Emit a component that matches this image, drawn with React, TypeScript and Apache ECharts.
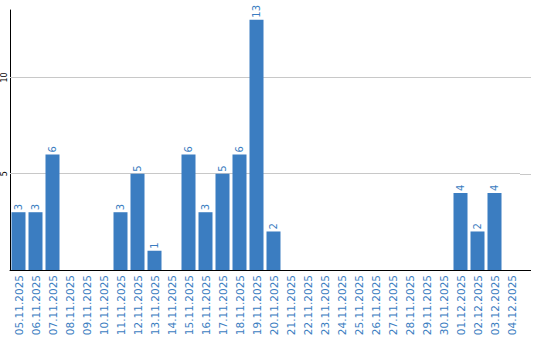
import React, { useEffect, useRef } from "react";
import * as echarts from "echarts";

const categories = [
  "05.11.2025", "06.11.2025", "07.11.2025", "08.11.2025", "09.11.2025",
  "10.11.2025", "11.11.2025", "12.11.2025", "13.11.2025", "14.11.2025",
  "15.11.2025", "16.11.2025", "17.11.2025", "18.11.2025", "19.11.2025",
  "20.11.2025", "21.11.2025", "22.11.2025", "23.11.2025", "24.11.2025",
  "25.11.2025", "26.11.2025", "27.11.2025", "28.11.2025", "29.11.2025",
  "30.11.2025", "01.12.2025", "02.12.2025", "03.12.2025", "04.12.2025",
];
const values = [3, 3, 6, 0, 0, 0, 3, 5, 1, 0, 6, 3, 5, 6, 13, 2, 0, 0, 0, 0, 0, 0, 0, 0, 0, 0, 4, 2, 4, 0];
const yTicks = [5, 10];

const BLUE = "#3b7dc1";
const GRID = "#c8c8c8";
const FONT = "DejaVu Sans";

export default function App() {
  const ref = useRef<HTMLDivElement>(null);
  useEffect(() => {
    if (!ref.current) return;
    document.body.style.margin = "0";
    const chart = echarts.init(ref.current, null, { renderer: "svg" });
    chart.setOption({
      animation: false,
      grid: { left: 10, right: 20, top: 10, bottom: 70 },
      xAxis: {
        type: "category",
        data: categories,
        axisLine: { lineStyle: { color: "#000", width: 1 } },
        axisTick: { show: false },
        axisLabel: {
          rotate: 90,
          interval: 0,
          color: BLUE,
          fontFamily: FONT,
          fontSize: 10.5,
          margin: 5,
        },
      },
      yAxis: {
        type: "value",
        min: 0,
        max: 13.5,
        interval: 5,
        axisLine: { show: true, lineStyle: { color: "#000", width: 1 } },
        axisTick: { show: false },
        splitLine: { show: false },
        axisLabel: {
          rotate: 90,
          fontSize: 8,
          fontFamily: FONT,
          color: "#000",
          margin: 2,
          showMinLabel: false,
          showMaxLabel: false,
        },
      },
      series: [
        {
          type: "bar",
          data: values,
          barWidth: 14,
          itemStyle: { color: BLUE },
          z: 3,
          label: {
            show: true,
            position: "top",
            rotate: 90,
            align: "left",
            verticalAlign: "middle",
            distance: 2,
            color: BLUE,
            fontFamily: FONT,
            fontSize: 10,
            formatter: (p: any) => (p.value ? String(p.value) : ""),
          },
          markLine: {
            silent: true,
            symbol: "none",
            label: { show: false },
            lineStyle: { color: GRID, type: "solid", width: 1 },
            z: 1,
            data: yTicks.map((t) => ({ yAxis: t })),
          },
        },
      ],
    });
    const x0 = chart.convertToPixel({ xAxisIndex: 0 }, categories.length - 1) + 8.5;
    const x1 = x0 + 11;
    const graphics: any[] = [];
    [0, ...yTicks].forEach((t) => {
      const y = Math.round(chart.convertToPixel({ yAxisIndex: 0 }, t)) + 0.5;
      graphics.push({
        type: "line",
        shape: { x1: x0, y1: y, x2: x1, y2: y },
        style: { stroke: t === 0 ? "#000" : GRID, lineWidth: 1 },
      });
    });
    chart.setOption({ graphic: graphics });
    return () => chart.dispose();
  }, []);
  return <div ref={ref} style={{ width: 540, height: 340 }} />;
}
